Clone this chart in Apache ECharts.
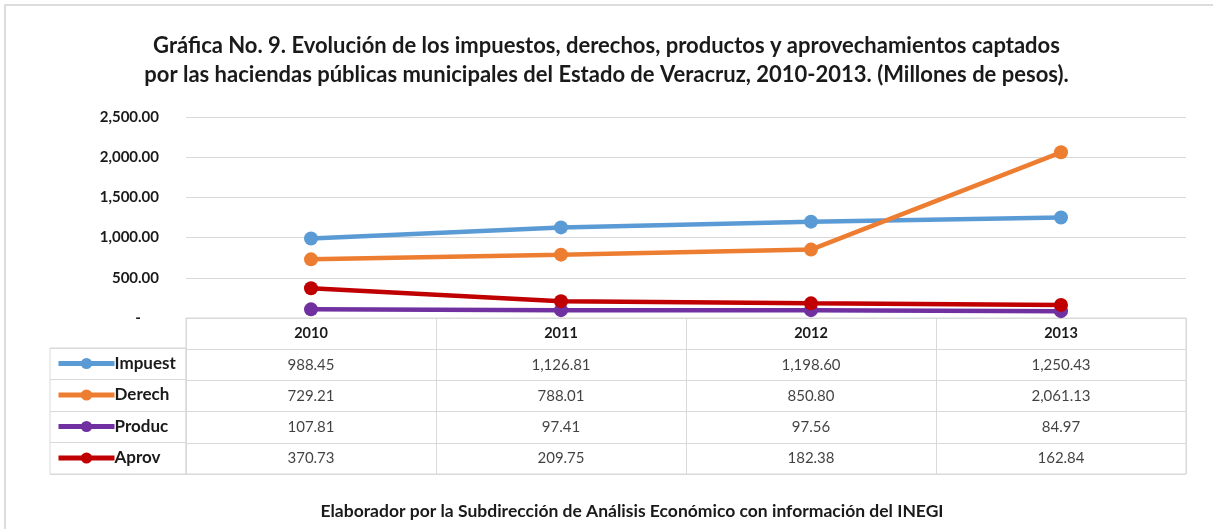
<!DOCTYPE html>
<html>
<head>
<meta charset="utf-8">
<script src="https://cdn.jsdelivr.net/npm/echarts@6/dist/echarts.min.js"></script>
<style>
  html, body { margin: 0; padding: 0; background: #fff; }
  #main { position: absolute; left: 0; top: 0; width: 1213px; height: 529px; }
  #frame { position: absolute; left: 4px; top: 4px; width: 1213px; height: 530px;
           border-top: 2px solid #dcdcdc; border-left: 2px solid #dcdcdc; pointer-events: none; }
</style>
</head>
<body>
<div id="main"></div>
<div id="frame"></div>
<script>
// datos (millones de pesos)
var years = ['2010', '2011', '2012', '2013'];
var names = ['Impuest', 'Derech', 'Produc', 'Aprov'];
var impuestos = [988.45, 1126.81, 1198.60, 1250.43];
var derechos = [729.21, 788.01, 850.80, 2061.13];
var productos = [107.81, 97.41, 97.56, 84.97];
var aprovechamientos = [370.73, 209.75, 182.38, 162.84];
var colors = ['#5b9bd5', '#ed7d31', '#7030a0', '#c00000'];
var yTicks = [0, 500, 1000, 1500, 2000, 2500];

var values = [impuestos, derechos, productos, aprovechamientos];
var FONT = 'Lato, "Open Sans", sans-serif';
var fmt = function (v) {
    return v.toLocaleString('en-US', {minimumFractionDigits: 2, maximumFractionDigits: 2});
};

// celdas de la tabla
var cells = [];
values.forEach(function (arr, s) {
    arr.forEach(function (v, i) {
        cells.push([years[i], names[s], v]);
    });
});

var lineSeries = names.map(function (n, s) {
    return {
        name: n,
        type: 'line',
        xAxisIndex: 0,
        yAxisIndex: 0,
        data: values[s],
        symbol: 'circle',
        symbolSize: 14,
        lineStyle: {width: 4.5, color: colors[s]},
        itemStyle: {color: colors[s]},
        z: s === 2 ? 3 : 4
    };
});

var myChart = echarts.init(document.getElementById('main'));
myChart.setOption({
    animation: false,
    title: [
        {
            text: 'Gráfica No. 9. Evolución de los impuestos, derechos, productos y aprovechamientos captados\npor las haciendas públicas municipales del Estado de Veracruz, 2010-2013. (Millones de pesos).',
            left: 'center',
            top: 31,
            padding: 0,
            textStyle: {fontFamily: FONT, fontSize: 22, fontWeight: 'bold', color: '#1a1a1a', lineHeight: 29, align: 'center'}
        },
        {
            text: 'Elaborador por la Subdirección de Análisis Económico con información del INEGI',
            left: 632,
            top: 502,
            padding: 0,
            textAlign: 'center',
            textStyle: {fontFamily: FONT, fontSize: 17.5, fontWeight: 'bold', color: '#1a1a1a'}
        }
    ],
    legend: {
        data: names,
        orient: 'vertical',
        left: 56,
        top: 355,
        itemWidth: 56,
        itemHeight: 14,
        itemGap: 14.5,
        padding: 0,
        lineStyle: {width: 5},
        textStyle: {fontFamily: FONT, fontSize: 17, fontWeight: 'bold', color: '#1a1a1a', lineHeight: 17, padding: [0, 0, 0, -5]},
        selectedMode: false
    },
    grid: [
        {left: 186, width: 1000, top: 117, height: 201},
        {left: 186, width: 1000, top: 318, height: 156, show: true, borderColor: '#d9d9d9', borderWidth: 1},
        {left: 50, width: 136, top: 348, height: 126, show: true, borderColor: '#d9d9d9', borderWidth: 1}
    ],
    xAxis: [
        {
            type: 'category', gridIndex: 0, data: years,
            axisLine: {lineStyle: {color: '#d9d9d9'}},
            axisTick: {show: false},
            axisLabel: {fontFamily: FONT, fontSize: 14.5, fontWeight: 'bold', color: '#1a1a1a', margin: 8}
        },
        {
            type: 'category', gridIndex: 1, data: years,
            axisLine: {show: false}, axisTick: {show: false}, axisLabel: {show: false},
            splitLine: {show: true, interval: 0, lineStyle: {color: '#d9d9d9'}}
        },
        {type: 'value', gridIndex: 2, show: false}
    ],
    yAxis: [
        {
            type: 'value', gridIndex: 0, min: yTicks[0], max: yTicks[yTicks.length - 1], interval: 500,
            axisLine: {show: false}, axisTick: {show: false},
            splitLine: {lineStyle: {color: '#d9d9d9'}},
            axisLabel: {
                fontFamily: FONT, fontSize: 15, fontWeight: 'bold', color: '#1a1a1a', margin: 27,
                formatter: function (v) { return v === 0 ? '-     ' : fmt(v); }
            }
        },
        {
            type: 'category', gridIndex: 1, data: [''].concat(names), inverse: true,
            axisLine: {show: false}, axisTick: {show: false}, axisLabel: {show: false},
            splitLine: {show: true, interval: 0, lineStyle: {color: '#d9d9d9'}}
        },
        {
            type: 'category', gridIndex: 2, data: names, inverse: true,
            axisLine: {show: false}, axisTick: {show: false}, axisLabel: {show: false},
            splitLine: {show: true, interval: 0, lineStyle: {color: '#d9d9d9'}}
        }
    ],
    series: lineSeries.concat([
        {
            name: 'tabla',
            type: 'scatter',
            xAxisIndex: 1,
            yAxisIndex: 1,
            symbolSize: 1,
            itemStyle: {color: 'rgba(0,0,0,0)'},
            silent: true,
            data: cells,
            label: {
                show: true,
                position: 'inside',
                fontFamily: FONT,
                fontSize: 15,
                color: '#111',
                formatter: function (p) { return fmt(p.value[2]); }
            }
        }
    ])
});
</script>
</body>
</html>
